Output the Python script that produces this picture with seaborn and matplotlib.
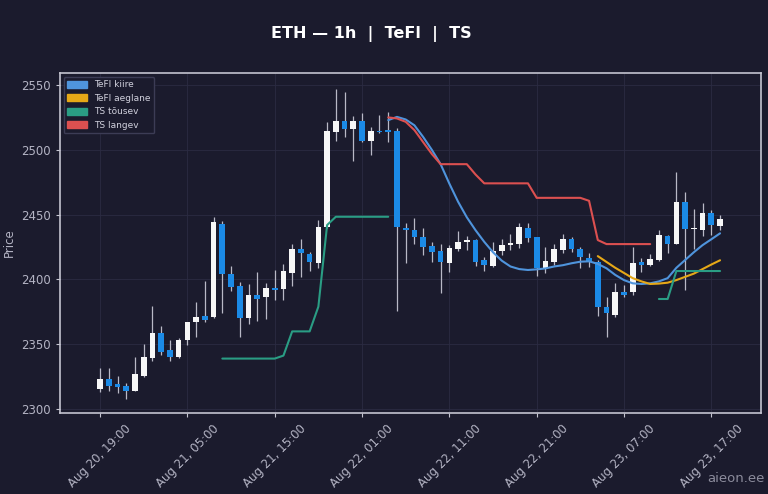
import numpy as np
import pandas as pd
import matplotlib
matplotlib.use("Agg")
import matplotlib.pyplot as plt
import matplotlib.dates as mdates
from matplotlib.patches import Patch
import seaborn as sns

# --- data (hourly candles, Aug 20 19:00 -> Aug 23 18:00) ---
START = "2025-08-20 19:00"
N_CANDLES = 72

OPENS = [2315.4, 2323.1, 2319.1, 2318.0, 2313.6, 2325.7, 2339.6, 2358.9, 2345.2, 2340.1,
         2353.2, 2367.4, 2371.8, 2370.8, 2442.7, 2404.2, 2394.9, 2370.0, 2387.7, 2386.2,
         2393.6, 2392.8, 2404.7, 2423.5, 2419.8, 2412.4, 2440.7, 2513.5, 2522.5, 2515.8,
         2522.0, 2506.6, 2514.5, 2514.5, 2514.7, 2439.6, 2438.1, 2433.0, 2425.5, 2422.2,
         2412.4, 2423.7, 2428.9, 2430.4, 2414.7, 2410.3, 2422.2, 2426.3, 2427.1, 2439.9,
         2432.5, 2408.6, 2413.2, 2422.7, 2431.4, 2423.5, 2416.5, 2413.7, 2378.9, 2372.5,
         2390.1, 2390.5, 2413.2, 2411.1, 2414.9, 2433.5, 2427.3, 2459.5, 2438.7, 2438.1,
         2451.0, 2441.2]
CLOSES = [2323.1, 2317.9, 2317.3, 2313.9, 2327.0, 2339.9, 2358.9, 2343.7, 2340.4, 2353.2,
          2366.9, 2371.3, 2368.7, 2444.3, 2403.9, 2393.9, 2370.0, 2387.7, 2385.1, 2393.6,
          2391.8, 2406.7, 2423.7, 2420.1, 2413.2, 2440.7, 2514.7, 2522.0, 2515.8, 2522.0,
          2507.0, 2514.7, 2514.0, 2514.2, 2440.2, 2438.1, 2432.5, 2425.2, 2421.4, 2413.7,
          2424.0, 2428.9, 2430.4, 2413.7, 2411.3, 2422.2, 2426.5, 2427.8, 2440.2, 2431.7,
          2408.6, 2414.2, 2423.5, 2431.2, 2423.2, 2417.5, 2414.2, 2378.9, 2374.3, 2390.3,
          2388.0, 2413.0, 2411.3, 2415.7, 2434.0, 2427.3, 2459.5, 2438.7, 2439.7, 2451.5,
          2441.7, 2446.4]
HIGHS = [2331.9, 2331.4, 2325.2, 2319.8, 2340.1, 2349.9, 2379.5, 2364.0, 2353.2, 2354.7,
         2367.5, 2382.6, 2398.5, 2448.4, 2445.3, 2410.3, 2398.2, 2396.2, 2405.7, 2397.5,
         2407.3, 2411.9, 2427.1, 2431.2, 2421.4, 2445.8, 2521.7, 2546.7, 2544.8, 2526.1,
         2528.2, 2517.8, 2527.1, 2529.2, 2516.6, 2443.3, 2447.1, 2439.9, 2429.1, 2427.3,
         2426.5, 2437.3, 2433.5, 2431.0, 2417.0, 2429.1, 2431.4, 2434.8, 2443.8, 2443.3,
         2432.5, 2424.8, 2427.1, 2435.0, 2433.0, 2425.2, 2420.1, 2415.0, 2386.7, 2397.0,
         2395.7, 2425.2, 2416.3, 2419.6, 2438.1, 2434.5, 2483.1, 2467.7, 2454.1, 2458.7,
         2453.5, 2449.7]
LOWS = [2312.9, 2313.9, 2312.6, 2307.7, 2313.6, 2324.5, 2337.3, 2341.9, 2337.0, 2339.5,
        2349.1, 2355.3, 2367.1, 2370.0, 2374.3, 2391.3, 2355.6, 2365.6, 2368.1, 2369.5,
        2384.1, 2384.1, 2395.0, 2402.1, 2406.7, 2408.6, 2439.5, 2507.0, 2509.6, 2491.6,
        2506.5, 2495.8, 2513.2, 2506.0, 2375.8, 2412.4, 2427.1, 2418.8, 2413.7, 2389.7,
        2405.9, 2422.2, 2422.7, 2410.3, 2406.5, 2409.8, 2418.8, 2422.7, 2424.5, 2429.1,
        2402.6, 2404.7, 2411.1, 2420.1, 2420.9, 2408.6, 2409.8, 2371.8, 2355.8, 2370.8,
        2386.7, 2388.0, 2406.0, 2410.3, 2414.0, 2420.1, 2427.0, 2391.8, 2423.2, 2433.5,
        2434.3, 2438.1]

# TeFl kiire: candles 33..71, TeFl aeglane: candles 57..71
TEFL_KIIRE = [2523.0, 2525.5, 2523.5, 2519.0, 2510.0, 2500.0, 2489.0, 2474.0, 2460.0, 2448.0,
              2438.0, 2429.0, 2421.0, 2414.5, 2410.0, 2408.0, 2407.3, 2407.8, 2408.5, 2410.0,
              2411.0, 2412.5, 2413.7, 2414.0, 2412.0, 2408.6, 2403.5, 2399.5, 2397.0, 2396.5,
              2397.0, 2398.5, 2401.0, 2409.0, 2415.0, 2421.0, 2426.5, 2431.0, 2435.6]
TEFL_AEGLANE = [2418.0, 2413.5, 2409.0, 2405.0, 2401.0, 2398.5, 2396.5, 2396.8, 2397.5, 2399.5,
                2402.0, 2404.5, 2408.0, 2411.5, 2414.8]
# TS tõusev: candles 14..33 and 64..71, TS langev: candles 33..63
TS_TOUSEV_1 = [2338.9, 2338.9, 2338.9, 2338.9, 2338.9, 2338.9, 2338.9, 2341.2, 2359.9, 2359.9,
               2359.9, 2379.0, 2442.0, 2448.4, 2448.4, 2448.4, 2448.4, 2448.4, 2448.4, 2448.4]
TS_TOUSEV_2 = [2384.9, 2384.9, 2406.5, 2406.5, 2406.5, 2406.5, 2406.5, 2406.5]
TS_LANGEV = [2525.1, 2524.3, 2521.7, 2515.3, 2506.0, 2496.8, 2489.0, 2489.0, 2489.0, 2489.0,
             2481.0, 2474.2, 2474.2, 2474.2, 2474.2, 2474.2, 2474.2, 2463.0, 2463.0, 2463.0,
             2463.0, 2463.0, 2463.0, 2460.7, 2430.4, 2427.3, 2427.3, 2427.3, 2427.3, 2427.3,
             2427.3]

Y_TICKS = [2300, 2350, 2400, 2450, 2500, 2550]

BG = "#1b1b2d"
UP = "#f7f7f7"
DOWN = "#1b8ae6"
WICK = "#b9b9c6"
C_KIIRE = "#4f94dc"
C_AEGLANE = "#e6a817"
C_TOUSEV = "#2a9d84"
C_LANGEV = "#dc5050"
TXT = "#b4b4c4"

sns.set_theme(style="dark", rc={
    "figure.facecolor": BG, "axes.facecolor": BG,
    "axes.edgecolor": "#c4c4d0", "grid.color": "#2b2b42",
    "text.color": TXT, "axes.labelcolor": TXT,
    "xtick.color": TXT, "ytick.color": TXT,
})
plt.rcParams["font.family"] = ["DejaVu Sans"]

times = pd.date_range(START, periods=N_CANDLES, freq="h")
df = pd.DataFrame({"time": times, "open": OPENS, "close": CLOSES,
                   "high": HIGHS, "low": LOWS})
df["up"] = df["close"] >= df["open"]
df["bottom"] = df[["open", "close"]].min(axis=1)
df["height"] = (df["close"] - df["open"]).abs().clip(lower=0.9)

fig, ax = plt.subplots(figsize=(7.68, 4.94), dpi=100)
fig.subplots_adjust(left=0.078, right=0.991, top=0.852, bottom=0.164)

# candles
ax.vlines(df["time"], df["low"], df["high"], color=WICK, lw=0.9, zorder=2)
ax.bar(df["time"], df["height"], bottom=df["bottom"], width=0.65 / 24,
       color=np.where(df["up"], UP, DOWN), linewidth=0, zorder=3)

# indicators
segments = [
    (times[33:], TEFL_KIIRE, C_KIIRE),
    (times[57:], TEFL_AEGLANE, C_AEGLANE),
    (times[14:34], TS_TOUSEV_1, C_TOUSEV),
    (times[64:], TS_TOUSEV_2, C_TOUSEV),
    (times[33:64], TS_LANGEV, C_LANGEV),
]
for t, vals, col in segments:
    seg = pd.DataFrame({"time": t, "value": vals})
    sns.lineplot(data=seg, x="time", y="value", color=col, lw=1.5, ax=ax,
                 legend=False, zorder=4)

ax.set_xlim(times[0] - pd.Timedelta(hours=4.6), times[0] + pd.Timedelta(hours=75.7))
ax.set_ylim(2296.9, 2559.3)
ax.set_yticks(Y_TICKS)
ax.set_xticks(times[::10])
ax.xaxis.set_major_formatter(mdates.DateFormatter("%b %d, %H:%M"))
ax.tick_params(axis="both", labelsize=8.5, length=3, width=0.8, color="#c4c4d0",
               bottom=True, left=True)
plt.setp(ax.get_xticklabels(), rotation=45)
ax.grid(True, lw=0.6)
for s in ax.spines.values():
    s.set_linewidth(1.2)
ax.set_xlabel("")
ax.set_ylabel("Price", fontsize=8.5)

handles = [Patch(color=C_KIIRE, label="TeFl kiire"),
           Patch(color=C_AEGLANE, label="TeFl aeglane"),
           Patch(color=C_TOUSEV, label="TS tõusev"),
           Patch(color=C_LANGEV, label="TS langev")]
leg = ax.legend(handles=handles, loc="upper left", fontsize=6.5, frameon=True,
                facecolor=BG, edgecolor="#3c3c55", framealpha=1,
                handlelength=2.2, handleheight=0.8, borderaxespad=0.4)
for txt in leg.get_texts():
    txt.set_color("#d0d0dc")

fig.suptitle("ETH — 1h  |  TeFl  |  TS", fontsize=11.5, fontweight="bold",
             color="white", x=0.483, y=0.931, va="center")
fig.text(0.995, 0.032, "aieon.ee", ha="right", va="center", fontsize=9.5,
         color="#8c8c9c")

fig.savefig("out.png", dpi=100, facecolor=fig.get_facecolor())
